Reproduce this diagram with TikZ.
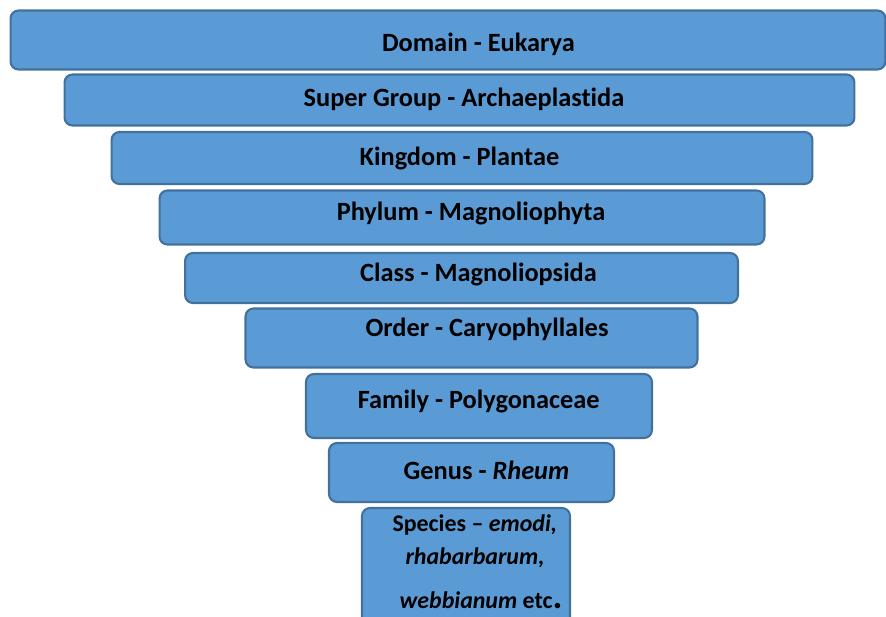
\documentclass[tikz,border=0pt]{standalone}
\usepackage{fontspec}
\setmainfont[Ligatures={NoCommon}]{Carlito}
\definecolor{rankfill}{HTML}{5B9BD5}
\definecolor{rankline}{HTML}{41719C}
\begin{document}
\begin{tikzpicture}[x=0.02cm, y=-0.02cm, rank style/.style={rectangle, draw=rankline, fill=rankfill, line width=1.2pt, rounded corners=4.5pt, inner sep=0pt}, name style/.style={anchor=base, inner sep=0pt, font=\fontsize{15}{18}\selectfont\bfseries}]
	\useasboundingbox (0,0) rectangle (886,617);
	\node[rank style, minimum width=17.5cm, minimum height=1.18cm] (R1) at (448, 40) {};
	\node[rank style, minimum width=15.8cm, minimum height=1.02cm] (R2) at (459.5, 100) {};
	\node[rank style, minimum width=14.02cm, minimum height=1.04cm] (R3) at (462, 158) {};
	\node[rank style, minimum width=12.1cm, minimum height=1.08cm] (R4) at (462, 217.5) {};
	\node[rank style, minimum width=11.06cm, minimum height=1.0cm] (R5) at (461.5, 278) {};
	\node[rank style, minimum width=9.04cm, minimum height=1.18cm] (R6) at (471.5, 338) {};
	\node[rank style, minimum width=6.92cm, minimum height=1.28cm] (R7) at (479, 406) {};
	\node[rank style, minimum width=5.7cm, minimum height=1.18cm] (R8) at (471.5, 472.5) {};
	\node[rank style, minimum width=4.16cm, minimum height=2.64cm] (R9) at (466, 574) {};
	\node[name style] (L1) at (478.4, 51.7) {Domain - Eukarya};
	\node[name style] (L2) at (464, 106.7) {Super Group - Archaeplastida};
	\node[name style] (L3) at (459.5, 166) {Kingdom - Plantae};
	\node[name style] (L4) at (471, 221) {Phylum - Magnoliophyta};
	\node[name style] (L5) at (478.5, 282) {Class - Magnoliopsida};
	\node[name style] (L6) at (487, 336.7) {Order - Caryophyllales};
	\node[name style] (L7) at (478.7, 409) {Family - Polygonaceae};
	\node[name style] (L8) at (486.5, 480) {Genus - \textit{Rheum}};
	\node[name style, font=\fontsize{13.6}{16}\selectfont\bfseries] (L9a) at (474.8, 531.7) {Species – \textit{emodi,}};
	\node[name style, font=\fontsize{13.6}{16}\selectfont\bfseries] (L9b) at (475, 565) {\textit{rhabarbarum,}};
	\node[name style, font=\fontsize{13.6}{16}\selectfont\bfseries] (L9c) at (481, 608.3) {\textit{webbianum} etc{\fontsize{21}{21}\selectfont.}};
\end{tikzpicture}
\end{document}
